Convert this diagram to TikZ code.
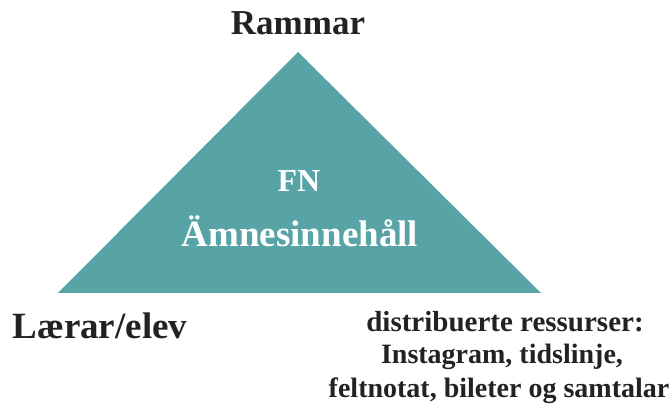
\documentclass[tikz,border=0pt]{standalone}
\usepackage{fontspec}
\setmainfont{Liberation Serif}
\definecolor{teal}{RGB}{87,163,166}
\definecolor{ink}{RGB}{34,34,34}
\tikzset{
  corner/.style={font=\fontsize{35}{37}\selectfont\bfseries, text=ink, inner sep=0pt},
  inside/.style={font=\fontsize{37}{39}\selectfont\bfseries, text=white, inner sep=0pt},
  res/.style={font=\fontsize{28}{30}\selectfont\bfseries, text=ink, inner sep=0pt}
}
\begin{document}
\begin{tikzpicture}[x=1pt,y=-1pt]
\useasboundingbox (0,0) rectangle (670,411);
\coordinate (top) at (298,52);
\coordinate (bl) at (58,293);
\coordinate (br) at (541,293);
\fill[teal] (top) -- (bl) -- (br) -- cycle;
\node[corner] (rammar) at (298,23) {Rammar};
\node[inside, font=\fontsize{32}{34}\selectfont\bfseries] (fn) at (299,181) {FN};
\node[inside] (amne) at (300,231) {Ämnesinnehåll};
\node[corner, font=\fontsize{37}{39}\selectfont\bfseries] (larar) at (100,326) {Lærar/elev};
\node[res, font=\fontsize{29}{31}\selectfont\bfseries] (res1) at (505,322) {distribuerte ressurser:};
\node[res] (res2) at (502,357) {Instagram, tidslinje,};
\node[res] (res3) at (499,391) {feltnotat, bileter og samtalar};
\end{tikzpicture}
\end{document}
